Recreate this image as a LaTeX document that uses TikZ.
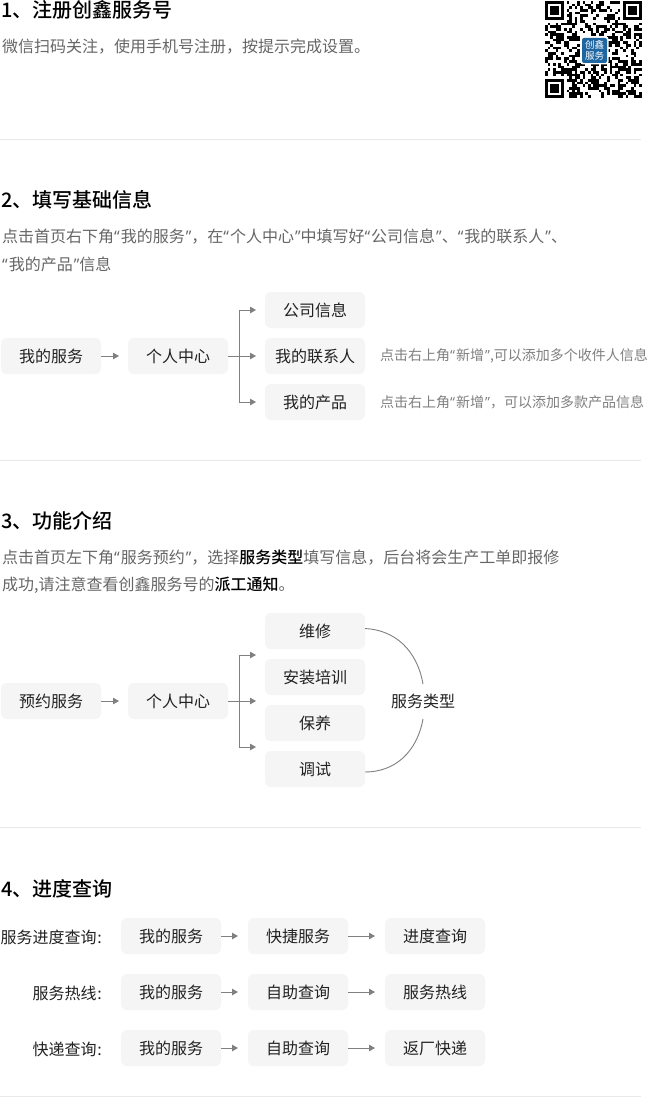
\documentclass[tikz,border=0pt]{standalone}
\usepackage{fontspec}
\setmainfont{Noto Sans CJK SC}
\newfontfamily\boldcjk{Noto Sans CJK SC Medium}
\newfontfamily\latinf{Open Sans}
\newcommand\qopen{{\latinf “}\kern1pt\relax}
\newcommand\qclose{\kern1pt{\latinf ”}}
\definecolor{boxfill}{HTML}{F5F5F5}
\definecolor{txt}{HTML}{222222}
\definecolor{subtxt}{HTML}{666666}
\definecolor{notetxt}{HTML}{808080}
\definecolor{rulec}{HTML}{E8E8E8}
\definecolor{linec}{HTML}{808080}
\definecolor{qrblue}{HTML}{1F66A0}
\usetikzlibrary{arrows.meta}
\tikzset{
  flowbox/.style={fill=boxfill,rounded corners=6pt,minimum width=100pt,minimum height=36pt,inner sep=0pt,font=\fontsize{16}{16}\selectfont,text=txt},
  headt/.style={anchor=west,inner sep=0pt,font=\boldcjk\fontsize{20}{20}\selectfont,text=black},
  para/.style={anchor=west,inner sep=0pt,font=\fontsize{16}{16}\selectfont,text=subtxt},
  notet/.style={anchor=west,inner sep=0pt,font=\fontsize{14}{14}\selectfont,text=notetxt},
  lab/.style={anchor=east,inner sep=0pt,font=\fontsize{16}{16}\selectfont,text=txt},
  conn/.style={draw=linec,line width=1pt},
  arcline/.style={draw=linec,line width=.9pt},
  arr/.style={conn,-{Triangle[length=6pt,width=6.5pt]}},
  sep/.style={draw=rulec,line width=.8pt}
}
\begin{document}
\begin{tikzpicture}[x=1pt,y=-1pt]
\useasboundingbox (0,0) rectangle (647,1097);
\fill[white] (0,0) rectangle (647,1097);
% section 1
\node[headt] (h1) at (1,10) {1、注册创鑫服务号};
\node[para] (p1) at (2,46.5) {微信扫码关注，使用手机号注册，按提示完成设置。};
\draw[sep] (0,139.5) -- (641,139.5);
% QR
\begin{scope}[shift={(545,1)}]
\pgfmathsetseed{77}
\foreach \i in {0,...,35}{\foreach \j in {0,...,35}{
 \pgfmathsetmacro\r{rnd}
 \pgfmathtruncatemacro\skipit{((\i<8&&\j<8)||(\i>27&&\j<8)||(\i<8&&\j>27)||(\i>12&&\i<23&&\j>12&&\j<23))?1:0}
 \ifnum\skipit=0 \ifdim\r pt<0.5pt \fill[black] ({\i*2.69},{\j*2.69}) rectangle ({(\i+1)*2.69},{(\j+1)*2.69}); \fi\fi
}}
\fill[black] (0,0) rectangle (19,19); \fill[white] (2.6,2.6) rectangle (16.4,16.4); \fill[black] (5.3,5.3) rectangle (13.7,13.7);
\fill[black] (78,0) rectangle (97,19); \fill[white] (80.6,2.6) rectangle (94.4,16.4); \fill[black] (83.3,5.3) rectangle (91.7,13.7);
\fill[black] (0,78) rectangle (19,97); \fill[white] (2.6,80.6) rectangle (16.4,94.4); \fill[black] (5.3,83.3) rectangle (13.7,91.7);
\fill[white,rounded corners=2.5pt] (35.5,35.5) rectangle (63.5,63.5);
\fill[qrblue,rounded corners=2pt] (37,37) rectangle (62,62);
\node[text=white,inner sep=0pt,font=\fontsize{9.5}{10.5}\selectfont,align=center] (qrt) at (49.5,49.5) {创鑫\\服务};
\end{scope}
% section 2
\node[headt] (h2) at (1,200) {2、填写基础信息};
\node[para] (p2a) at (2,236.5) {点击首页右下角\qopen 我的服务\qclose ，在\qopen 个人中心\qclose 中填写好\qopen 公司信息\qclose 、\qopen 我的联系人\qclose 、};
\node[para] (p2b) at (2,264.5) {\qopen 我的产品\qclose 信息};
\node[flowbox] (a1) at (51,356) {我的服务};
\node[flowbox] (a2) at (178,356) {个人中心};
\node[flowbox] (a3) at (315,310) {公司信息};
\node[flowbox] (a4) at (315,356) {我的联系人};
\node[flowbox] (a5) at (315,402) {我的产品};
\coordinate (a3e) at (256,310);\coordinate (a4e) at (256,356);\coordinate (a5e) at (256,402);
\coordinate (a1e) at (119,356);\coordinate (aj) at (239.5,356);
\draw[arr] (a1) -- (a1e);
\draw[arr] (a2) -- (a4e);
\draw[arr] (aj) |- (a3e);
\draw[arr] (aj) |- (a5e);
\node[notet] (n1) at (380,356) {点击右上角\qopen 新增\qclose ,可以添加多个收件人信息};
\node[notet] (n2) at (380,402) {点击右上角\qopen 新增\qclose ，可以添加多款产品信息};
\draw[sep] (0,460.5) -- (641,460.5);
% section 3
\node[headt] (h3) at (1,521) {3、功能介绍};
\node[para] (p3a) at (2,557.5) {点击首页左下角\qopen 服务预约\qclose ，选择{\color{black}\boldcjk 服务类型}填写信息，后台将会生产工单即报修};
\node[para] (p3b) at (2,585.5) {成功,请注意查看创鑫服务号的{\color{black}\boldcjk 派工通知}。};
\node[flowbox] (b1) at (51,701) {预约服务};
\node[flowbox] (b2) at (178,701) {个人中心};
\node[flowbox] (b3) at (315,631) {维修};
\node[flowbox] (b4) at (315,677) {安装培训};
\node[flowbox] (b5) at (315,723) {保养};
\node[flowbox] (b6) at (315,769) {调试};
\node[inner sep=0pt,font=\fontsize{16}{16}\selectfont,text=txt] (b7) at (423,701) {服务类型};
\coordinate (b1e) at (119,701);\coordinate (bj) at (239.5,701);
\coordinate (b3e) at (256,655);\coordinate (b4e) at (256,701);\coordinate (b5e) at (256,747);
\draw[arr] (b1) -- (b1e);
\draw[arr] (b2) -- (b4e);
\draw[arr] (bj) |- (b3e);
\draw[arr] (bj) |- (b5e);
\coordinate (b3a) at (365,628.5);
\coordinate (b6a) at (365,772);
\coordinate (b7a) at (423,684);
\coordinate (b7b) at (423,719);
\draw[arcline] (b3a) .. controls (395,630) and (417,650) .. (b7a);
\draw[arcline] (b6a) .. controls (395,772) and (417,752) .. (b7b);
\draw[sep] (0,827.5) -- (641,827.5);
% section 4
\node[headt] (h4) at (1,889) {4、进度查询};
\node[lab] (l1) at (102,937) {服务进度查询\kern.8pt:};
\node[lab] (l2) at (102,993) {服务热线\kern.8pt:};
\node[lab] (l3) at (102,1049) {快递查询\kern.8pt:};
\foreach \n/\y/\t/\u in {c/936/快捷服务/进度查询,d/992/自助查询/服务热线,e/1048/自助查询/返厂快递}{
  \node[flowbox] (\n1) at (171,\y) {我的服务};
  \node[flowbox] (\n2) at (298,\y) {\t};
  \node[flowbox] (\n3) at (435,\y) {\u};
  \coordinate (\n1e) at (238,\y);
  \coordinate (\n2e) at (375,\y);
  \draw[arr] (\n1) -- (\n1e);
  \draw[arr] (\n2) -- (\n2e);
}
\draw[sep] (0,1096.5) -- (641,1096.5);
\end{tikzpicture}
\end{document}
